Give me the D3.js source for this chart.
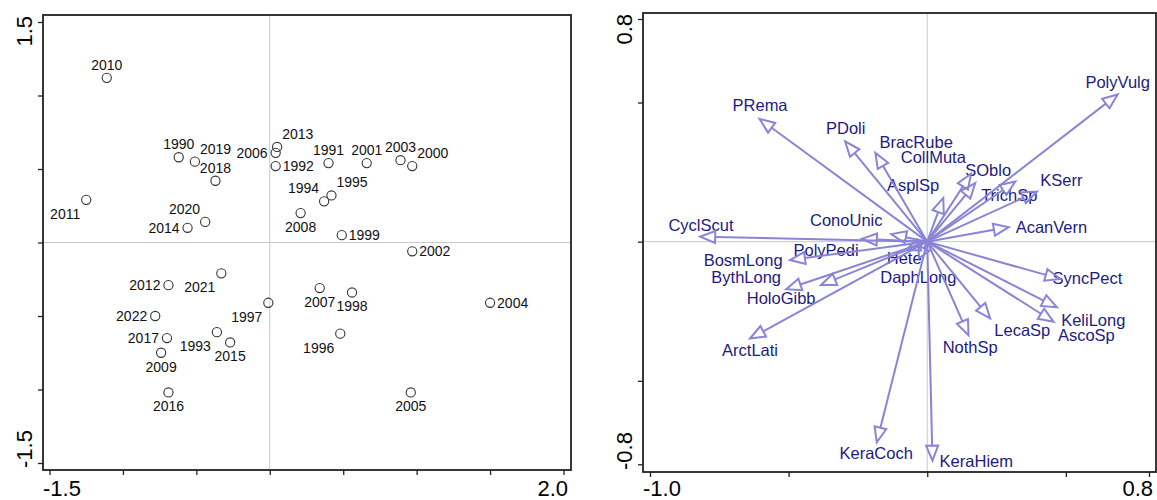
<!DOCTYPE html>
<html>
<head>
<meta charset="utf-8">
<script src="https://cdn.jsdelivr.net/npm/d3@7"></script>
<style>
  body { margin: 0; background: #fff; }
  svg { display: block; font-family: Arial, "Liberation Sans", sans-serif; }
</style>
</head>
<body>
<svg width="1157" height="500"></svg>
<script>
// ---- samples (left panel) ----
var years = ["2010","2011","1990","2019","2018","2013","2006","1992","2020","2014",
  "1991","2001","2003","2000","1995","1994","2008","1999","2002","2007","1998","2004",
  "1996","2005","2012","2021","1997","2022","2017","2009","1993","2015","2016"];
var sampleX = [-1.11,-1.25,-0.62,-0.51,-0.37,0.05,0.04,0.04,-0.44,-0.56,
  0.40,0.66,0.89,0.97,0.42,0.37,0.21,0.49,0.97,0.34,0.56,1.50,
  0.48,0.96,-0.69,-0.33,-0.01,-0.78,-0.70,-0.74,-0.36,-0.27,-0.69];
var sampleY = [1.12,0.29,0.58,0.55,0.42,0.65,0.61,0.52,0.14,0.10,
  0.54,0.54,0.56,0.52,0.32,0.28,0.20,0.05,-0.06,-0.31,-0.34,-0.41,
  -0.62,-1.02,-0.29,-0.21,-0.41,-0.50,-0.65,-0.75,-0.61,-0.68,-1.02];
// where the year label sits relative to its circle
var sampleLabelSide = ["t","bl","t","tr","t","tr","l","r","tl","l",
  "t","t","t","tr","tr","tl","b","r","r","b","b","r",
  "bl","b","l","bl","bl","l","l","b","bl","b","b"];
var xTicksL = [-1.5,-1.0,-0.5,0,0.5,1.0,1.5,2.0];
var yTicksL = [-1.5,-1.0,-0.5,0,0.5,1.0,1.5];

// ---- species (right panel) ----
var species = ["PolyVulg","PRema","PDoli","BracRube","CollMuta","SOblo","AsplSp","TrichSp",
  "KSerr","AcanVern","CyclScut","ConoUnic","PolyPedi","BosmLong","BythLong","HoloGibb",
  "ArctLati","Hete","DaphLong","SyncPect","KeliLong","AscoSp","LecaSp","NothSp",
  "KeraCoch","KeraHiem"];
var specX = [0.687,-0.605,-0.296,-0.187,0.158,0.173,0.058,0.318,
  0.396,0.294,-0.819,-0.130,-0.236,-0.495,-0.509,-0.383,
  -0.639,-0.075,-0.030,0.480,0.468,0.456,0.227,0.149,
  -0.182,0.019];
var specY = [0.529,0.441,0.360,0.319,0.244,0.210,0.157,0.216,
  0.180,0.052,0.018,0.027,0.010,-0.066,-0.171,-0.156,
  -0.348,-0.030,-0.060,-0.134,-0.236,-0.288,-0.276,-0.336,
  -0.721,-0.787];
// label centres, in axis units
var specLabelX = [0.687,-0.603,-0.294,-0.040,0.022,0.220,-0.051,0.296,
  0.484,0.448,-0.816,-0.292,-0.365,-0.664,-0.653,-0.527,
  -0.639,-0.083,-0.032,0.578,0.599,0.574,0.343,0.155,
  -0.184,0.177];
var specLabelY = [0.572,0.489,0.406,0.359,0.302,0.258,0.204,0.168,
  0.222,0.053,0.060,0.078,-0.030,-0.066,-0.127,-0.203,
  -0.390,-0.059,-0.127,-0.131,-0.284,-0.336,-0.318,-0.379,
  -0.761,-0.790];
var xTicksR = [-1.0,-0.5,0,0.5,0.8];
var yTicksR = [-0.8,-0.5,0,0.5,0.8];

var svg = d3.select("svg");
var fmt = function(v) { return v.toFixed(1); };  // plain hyphen minus, like the original

function panel(cfg) {
  var g = svg.append("g");
  var x = d3.scaleLinear().domain(cfg.xd).range(cfg.xr),
      y = d3.scaleLinear().domain(cfg.yd).range(cfg.yr);
  var f = cfg.frame;

  // zero lines
  g.append("line").attr("x1", x(0)).attr("x2", x(0)).attr("y1", f.y0).attr("y2", f.y1)
    .attr("stroke", "#c8c8c8").attr("stroke-width", 1);
  g.append("line").attr("x1", f.x0).attr("x2", f.x1).attr("y1", y(0)).attr("y2", y(0))
    .attr("stroke", "#c8c8c8").attr("stroke-width", 1);

  // ticks
  g.append("g").attr("transform", "translate(0," + f.y1 + ")")
    .call(d3.axisBottom(x).tickValues(cfg.xt).tickSize(5).tickFormat(""))
    .call(function(a) { a.select(".domain").remove(); a.selectAll("line").attr("stroke", "#222").attr("stroke-width", 1.3); });
  g.append("g").attr("transform", "translate(" + f.x0 + ",0)")
    .call(d3.axisLeft(y).tickValues(cfg.yt).tickSize(5).tickFormat(""))
    .call(function(a) { a.select(".domain").remove(); a.selectAll("line").attr("stroke", "#222").attr("stroke-width", 1.3); });

  // frame
  g.append("rect").attr("x", f.x0).attr("y", f.y0)
    .attr("width", f.x1 - f.x0).attr("height", f.y1 - f.y0)
    .attr("fill", "none").attr("stroke", "#222").attr("stroke-width", 1.8);

  // end labels
  var xt = cfg.xt, yt = cfg.yt;
  g.append("text").attr("x", f.x0).attr("y", 496).attr("font-size", 22)
    .text(fmt(xt[0]));
  g.append("text").attr("x", f.x1 - 3).attr("y", 496).attr("font-size", 22)
    .attr("text-anchor", "end").text(fmt(xt[xt.length - 1]));
  g.append("text").attr("transform", "translate(" + (f.x0 - 11) + "," + (f.y1 - 2) + ") rotate(-90)")
    .attr("font-size", 22).text(fmt(yt[0]));
  g.append("text").attr("transform", "translate(" + (f.x0 - 11) + "," + (f.y0 + 1) + ") rotate(-90)")
    .attr("font-size", 22).attr("text-anchor", "end").text(fmt(yt[yt.length - 1]));

  return { g: g, x: x, y: y };
}

// ---- left: samples ----
var L = panel({
  xd: [-1.5, 2.0], xr: [49.5, 563.5], yd: [-1.5, 1.5], yr: [463, 22],
  xt: xTicksL, yt: yTicksL, frame: { x0: 43, x1: 571, y0: 15, y1: 470 }
});

var side = {
  t:  { dx: 0,  dy: -13, a: "middle" },
  tr: { dx: 5,  dy: -13, a: "start" },
  tl: { dx: -5, dy: -13, a: "end" },
  b:  { dx: 0,  dy: 14,  a: "middle" },
  bl: { dx: -6, dy: 14,  a: "end" },
  l:  { dx: -8, dy: 0,   a: "end" },
  r:  { dx: 7,  dy: 0,   a: "start" }
};

var samples = years.map(function(d, i) {
  return { year: d, x: sampleX[i], y: sampleY[i], side: sampleLabelSide[i] };
});

L.g.selectAll("circle.s").data(samples).enter().append("circle")
  .attr("class", "s")
  .attr("cx", function(d) { return L.x(d.x); })
  .attr("cy", function(d) { return L.y(d.y); })
  .attr("r", 4.6)
  .attr("fill", "none").attr("stroke", "#333").attr("stroke-width", 1.1);

L.g.selectAll("text.s").data(samples).enter().append("text")
  .attr("class", "s")
  .attr("x", function(d) { return L.x(d.x) + side[d.side].dx; })
  .attr("y", function(d) { return L.y(d.y) + side[d.side].dy; })
  .attr("dy", "0.35em")
  .attr("text-anchor", function(d) { return side[d.side].a; })
  .attr("font-size", 14).attr("fill", "#111")
  .text(function(d) { return d.year; });

// ---- right: species arrows ----
var R = panel({
  xd: [-1.0, 0.8], xr: [650, 1149], yd: [-0.8, 0.8], yr: [464.3, 19],
  xt: xTicksR, yt: yTicksR, frame: { x0: 643, x1: 1156, y0: 13, y1: 472 }
});

var arrowCol = "#8a84d6", labelCol = "#1e1a80";
var spec = species.map(function(d, i) {
  return { name: d, x: specX[i], y: specY[i], lx: specLabelX[i], ly: specLabelY[i] };
});

R.g.selectAll("text.sp").data(spec).enter().append("text")
  .attr("class", "sp")
  .attr("x", function(d) { return R.x(d.lx); })
  .attr("y", function(d) { return R.y(d.ly); })
  .attr("dy", "0.35em").attr("text-anchor", "middle")
  .attr("font-size", 16.5).attr("fill", labelCol)
  .text(function(d) { return d.name; });

var headLen = 15, headHalf = 6;
var arrows = R.g.selectAll("g.arrow").data(spec).enter().append("g").attr("class", "arrow");
arrows.each(function(d) {
  var ox = R.x(0), oy = R.y(0), tx = R.x(d.x), ty = R.y(d.y);
  var len = Math.hypot(tx - ox, ty - oy), ux = (tx - ox) / len, uy = (ty - oy) / len;
  var h = Math.min(headLen, len * 0.6);
  var bx = tx - ux * h, by = ty - uy * h;
  var s = d3.select(this);
  s.append("line").attr("x1", ox).attr("y1", oy).attr("x2", bx).attr("y2", by)
    .attr("stroke", arrowCol).attr("stroke-width", 2);
  s.append("path")
    .attr("d", "M" + tx + "," + ty + "L" + (bx - uy * headHalf) + "," + (by + ux * headHalf) +
               "L" + (bx + uy * headHalf) + "," + (by - ux * headHalf) + "Z")
    .attr("fill", "none").attr("stroke", arrowCol).attr("stroke-width", 2);
});
</script>
</body>
</html>
